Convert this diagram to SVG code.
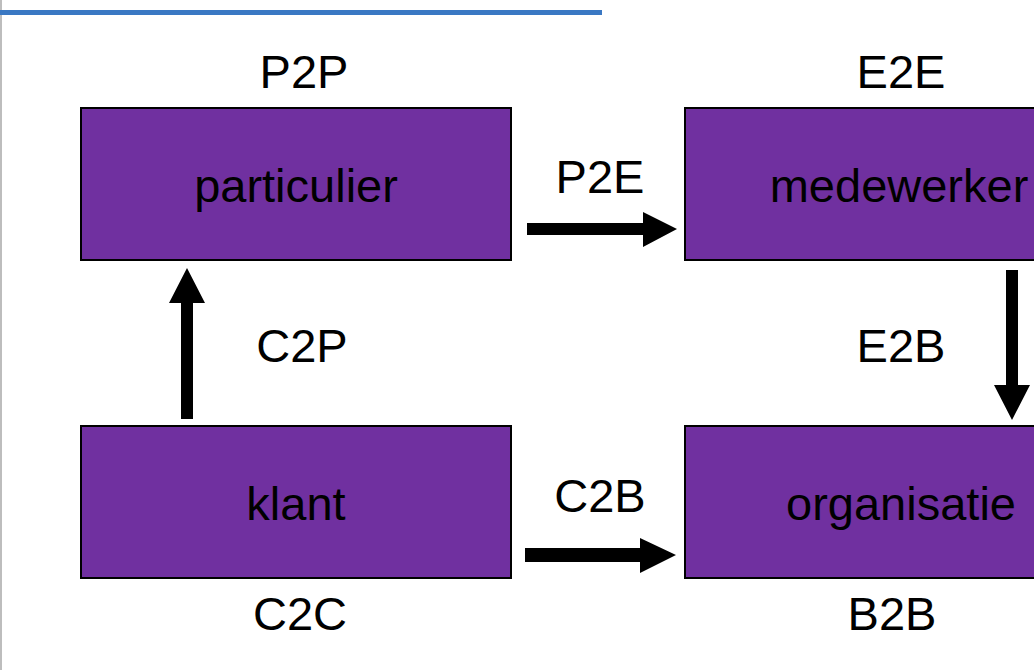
<svg xmlns="http://www.w3.org/2000/svg" width="1034" height="670" viewBox="0 0 1034 670">
<style>
.box{fill:#7030A0;stroke:#000;stroke-width:2}
.t{font-family:"Liberation Sans",Arial,sans-serif;font-size:47px;fill:#000;text-anchor:middle}
.arr{fill:#000}
</style>
<rect width="1034" height="670" fill="#fff"/>
<rect x="0" y="0" width="2" height="670" fill="#bdbdbd"/>
<rect x="0" y="10" width="602" height="5" fill="#3A78C3"/>
<g id="label-p2p"><text class="t" x="304" y="88">P2P</text></g>
<g id="label-e2e"><text class="t" x="901" y="88">E2E</text></g>
<g id="node-particulier"><rect class="box" x="81" y="108" width="430" height="152"/><text class="t" x="296" y="202">particulier</text></g>
<g id="node-medewerker"><rect class="box" x="685" y="108" width="360" height="152"/><text class="t" x="899" y="202">medewerker</text></g>
<g id="node-klant"><rect class="box" x="81" y="426" width="430" height="152"/><text class="t" x="296" y="520">klant</text></g>
<g id="node-organisatie"><rect class="box" x="685" y="426" width="360" height="152"/><text class="t" x="901" y="520">organisatie</text></g>
<g id="label-c2c"><text class="t" x="300" y="630">C2C</text></g>
<g id="label-b2b"><text class="t" x="892" y="630">B2B</text></g>
<g id="connectors">
<polygon class="arr" points="527,223 643,223 643,212 677,229 643,247 643,235 527,235"/>
<text class="t" x="600" y="193">P2E</text>
<polygon class="arr" points="525,548 640,548 640,538 676,555 640,573 640,562 525,562"/>
<text class="t" x="600" y="512">C2B</text>
<polygon class="arr" points="181,419 181,303 169,303 187,268 205,303 193,303 193,419"/>
<text class="t" x="302" y="362">C2P</text>
<polygon class="arr" points="1006,270 1018,270 1018,385 1030,385 1012,420 994,385 1006,385"/>
<text class="t" x="901" y="362">E2B</text>
</g>
</svg>
